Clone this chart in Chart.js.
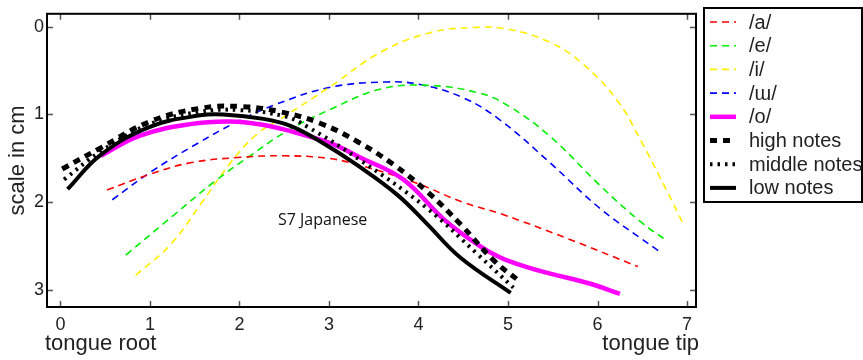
<!DOCTYPE html>
<html>
<head>
<meta charset="utf-8">
<script src="https://cdn.jsdelivr.net/npm/chart.js@4.4.0/dist/chart.umd.min.js"></script>
<style>
  body{margin:0;background:#fff;}
  #wrap{width:863px;height:360px;}
</style>
</head>
<body>
<div id="wrap"><canvas id="myChart" width="863" height="360"></canvas></div>
<script>
// tongue contours, [distance from root (cm), depth (cm)]
const vowelA=[[0.52,1.86],[1.0,1.68],[1.45,1.55],[1.98,1.49],[2.5,1.47],[3.0,1.5],[3.35,1.58],[3.95,1.77],[4.5,2.0],[4.92,2.13],[5.66,2.41],[6.45,2.73]];
const vowelE=[[0.73,2.6],[1.26,2.15],[1.75,1.74],[2.12,1.47],[2.53,1.19],[3.02,0.94],[3.58,0.71],[4.13,0.67],[4.69,0.76],[5.0,0.9],[5.47,1.25],[6.03,1.81],[6.48,2.22],[6.78,2.44]];
const vowelI=[[0.84,2.83],[1.23,2.48],[1.56,2.03],[1.9,1.55],[2.2,1.22],[2.49,1.03],[3.02,0.68],[3.58,0.29],[4.13,0.07],[4.62,0.01],[5.0,0.03],[5.47,0.18],[5.84,0.43],[6.22,0.84],[6.48,1.29],[6.78,1.88],[6.96,2.25]];
const vowelU=[[0.58,1.97],[1.0,1.66],[1.53,1.33],[1.98,1.08],[2.42,0.88],[3.02,0.69],[3.65,0.63],[4.02,0.66],[4.5,0.81],[4.92,1.07],[5.47,1.55],[6.03,2.07],[6.68,2.55]];
const vowelO=[[0.45,1.47],[0.89,1.24],[1.45,1.11],[1.9,1.08],[2.27,1.12],[2.57,1.19],[3.02,1.33],[3.35,1.49],[3.83,1.74],[4.28,2.19],[4.66,2.48],[4.92,2.63],[5.22,2.74],[5.47,2.81],[5.9,2.92],[6.25,3.04]];
const highNotes=[[0.02,1.62],[0.45,1.38],[1.0,1.08],[1.56,0.93],[2.02,0.91],[2.46,0.97],[2.9,1.1],[3.32,1.31],[3.72,1.57],[4.1,1.88],[4.47,2.25],[4.84,2.66],[5.12,2.89]];
const middleNotes=[[0.04,1.74],[0.45,1.42],[1.0,1.11],[1.56,0.97],[2.0,0.95],[2.5,1.02],[2.76,1.14],[3.35,1.52],[4.1,2.07],[4.66,2.59],[5.06,2.97]];
const lowNotes=[[0.08,1.85],[0.45,1.46],[1.0,1.14],[1.56,1.01],[1.82,1.0],[2.27,1.05],[2.57,1.13],[2.94,1.33],[3.32,1.58],[3.77,1.92],[4.1,2.25],[4.47,2.63],[5.03,3.03]];

const xTicks=[0,1,2,3,4,5,6,7];
const yTicks=[0,1,2,3];
const labels=['/a/','/e/','/i/','/\u026f/','/o/','high notes','middle notes','low notes'];

const FONT="'Liberation Sans', Arial, sans-serif";
const pts=arr=>arr.map(p=>({x:p[0],y:p[1]}));

const mk=(i,data,color,width,dash,order)=>({
    label:labels[i],
    data:pts(data),
    borderColor:color,
    backgroundColor:color,
    borderWidth:width,
    borderDash:dash,
    pointRadius:0,
    fill:false,
    tension:0.4,
    order:order
});

// frame, inward ticks, axis words, annotation and boxed legend
const extras={
    id:'extras',
    afterDatasetsDraw(chart){
        const c=chart.ctx, a=chart.chartArea, xs=chart.scales.x, ys=chart.scales.y;
        c.save();
        c.strokeStyle='#555';
        c.lineWidth=1.5;
        c.beginPath();
        xTicks.forEach(v=>{
            const px=Math.round(xs.getPixelForValue(v))+0.5;
            c.moveTo(px,a.bottom);c.lineTo(px,a.bottom-6);
            c.moveTo(px,a.top);c.lineTo(px,a.top+6);
        });
        yTicks.forEach(v=>{
            const py=Math.round(ys.getPixelForValue(v))+0.5;
            c.moveTo(a.left,py);c.lineTo(a.left+6,py);
            c.moveTo(a.right,py);c.lineTo(a.right-6,py);
        });
        c.stroke();
        c.strokeStyle='#000';
        c.lineWidth=2;
        c.strokeRect(a.left,a.top,a.right-a.left,a.bottom-a.top);

        c.fillStyle='#222';
        c.font="22px "+FONT;
        c.textBaseline='middle';
        c.textAlign='left';
        c.fillText('tongue root',a.left-2,344);
        c.textAlign='right';
        c.fillText('tongue tip',a.right+3,344);

        c.font="16px 'Open Sans', sans-serif";
        c.textAlign='left';
        c.fillStyle='#111';
        c.fillText('S7 Japanese',xs.getPixelForValue(2.43),ys.getPixelForValue(2.2));

        // legend
        const lx=704, ly=8, lw=158, lh=194;
        c.fillStyle='#fff';
        c.fillRect(lx,ly,lw,lh);
        c.strokeStyle='#000';
        c.lineWidth=2;
        c.strokeRect(lx,ly,lw,lh);
        c.font="20px "+FONT;
        c.textAlign='left';
        chart.data.datasets.forEach((d,i)=>{
            const yy=22+i*23.7;
            c.strokeStyle=d.borderColor;
            c.lineWidth=d.borderWidth;
            c.setLineDash(d.borderDash||[]);
            c.beginPath();
            c.moveTo(710,yy);c.lineTo(736,yy);
            c.stroke();
            c.setLineDash([]);
            c.fillStyle='#222';
            c.fillText(d.label,749,yy+1);
        });
        c.restore();
    }
};

const ctx=document.getElementById('myChart').getContext('2d');
const myChart=new Chart(ctx,{
    type:'line',
    data:{
        datasets:[
            mk(0,vowelA,'#ff0000',1.6,[7,5],3),
            mk(1,vowelE,'#00ee00',1.6,[7,5],3),
            mk(2,vowelI,'#ffee00',1.6,[7,5],3),
            mk(3,vowelU,'#0000ff',1.6,[7,5],3),
            mk(4,vowelO,'#ff00ff',4.5,[],2),
            mk(5,highNotes,'#000',5,[7,6],1),
            mk(6,middleNotes,'#000',4,[2.5,5],0),
            mk(7,lowNotes,'#000',4,[],1)
        ]
    },
    options:{
        responsive:false,
        animation:false,
        devicePixelRatio:1,
        layout:{padding:{left:0,right:167,top:8,bottom:0}},
        plugins:{legend:{display:false},tooltip:{enabled:false}},
        scales:{
            x:{
                type:'linear',
                min:-0.15,max:7.1,
                afterBuildTicks:s=>{s.ticks=xTicks.map(v=>({value:v}));},
                afterFit:s=>{s.height=53;},
                grid:{display:false,drawTicks:false},
                border:{display:false},
                ticks:{color:'#222',padding:7,font:{family:FONT,size:18},maxRotation:0}
            },
            y:{
                type:'linear',
                reverse:true,
                min:-0.145,max:3.19,
                afterBuildTicks:s=>{s.ticks=yTicks.map(v=>({value:v}));},
                afterFit:s=>{s.width=47;},
                grid:{display:false,drawTicks:false},
                border:{display:false},
                ticks:{color:'#222',padding:3,font:{family:FONT,size:18}},
                title:{display:true,text:'scale in cm',color:'#222',font:{family:FONT,size:22},padding:{top:5,bottom:0}}
            }
        }
    },
    plugins:[extras]
});
</script>
</body>
</html>
